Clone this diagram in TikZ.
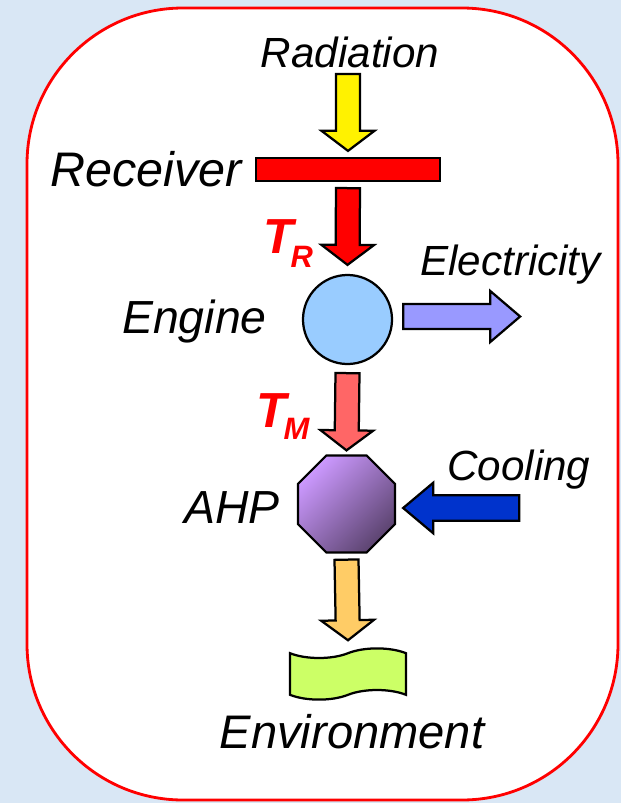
\documentclass[tikz,border=0pt]{standalone}
\usepackage{fontspec}
\setmainfont{Liberation Sans}
\usetikzlibrary{calc,shapes.geometric,shapes.symbols}
\definecolor{bgblue}{HTML}{D9E7F5}
\definecolor{engineblue}{HTML}{99CCFF}
\definecolor{elecblue}{HTML}{9999FF}
\definecolor{coolblue}{HTML}{0033CC}
\definecolor{hotpink}{HTML}{FF6666}
\definecolor{warmorange}{HTML}{FFCC66}
\definecolor{envgreen}{HTML}{CCFF66}
\definecolor{ahplight}{HTML}{CC99FF}
\definecolor{ahpdark}{HTML}{5C4470}
\tikzset{
  head len/.store in=\headlen, head len=0.5cm,
  head wd/.store in=\headwd, head wd=0.66cm,
  shaft wd/.store in=\shaftwd, shaft wd=0.3cm,
  bigarrow/.style={draw=black, line width=1.6pt, line join=miter, to path={
    ($(\tikztostart)!\shaftwd!90:(\tikztotarget)$)
    -- ($($(\tikztotarget)!\headlen!(\tikztostart)$)!\shaftwd!90:(\tikztotarget)$)
    -- ($($(\tikztotarget)!\headlen!(\tikztostart)$)!\headwd!90:(\tikztotarget)$)
    -- (\tikztotarget)
    -- ($($(\tikztotarget)!\headlen!(\tikztostart)$)!\headwd!-90:(\tikztotarget)$)
    -- ($($(\tikztotarget)!\headlen!(\tikztostart)$)!\shaftwd!-90:(\tikztotarget)$)
    -- ($(\tikztostart)!\shaftwd!-90:(\tikztotarget)$) -- cycle}}
}
\begin{document}
\begin{tikzpicture}[x=0.025cm, y=-0.025cm,
    bigtext/.style={font=\fontsize{33}{36}\selectfont\itshape, inner sep=0},
    smalltext/.style={font=\fontsize{30}{33}\selectfont\itshape, inner sep=0},
    templabel/.style={font=\fontsize{35}{38}\selectfont\bfseries\itshape, text=red, inner sep=0},
    part/.style={draw=black, line width=1.6pt}]
	\fill[bgblue] (0,0) rectangle (621,803);
	\useasboundingbox (0,0) rectangle (621,803);
	\draw[red, line width=2pt, fill=white, rounded corners=3.9cm] (27,8) rectangle (618,800);
	
	\node[smalltext, anchor=base] (radiation) at (350,67) {Radiation};
	\node[part, fill=red, minimum width=4.6cm, minimum height=0.575cm, inner sep=0] (receiver) at (348,169.5) {};
	\node[bigtext, font=\fontsize{34.5}{38}\selectfont\itshape, anchor=base east] (receivertext) at (242,186) {Receiver};
	\node[part, circle, fill=engineblue, minimum size=2.225cm, inner sep=0] (engine) at (347.5,319.5) {};
	\node[bigtext, anchor=base east] (enginetext) at (267,333) {Engine};
	\node[smalltext, anchor=base west] (electricity) at (420,275) {Electricity};
	\node[part, regular polygon, regular polygon sides=8, minimum size=2.625cm, inner sep=0,
	  top color=ahplight, bottom color=ahpdark, shading angle=45] (ahp) at (346.5,504) {};
	\node[bigtext, anchor=base east] (ahptext) at (280,523) {AHP};
	\node[smalltext, anchor=base west] (cooling) at (447,480) {Cooling};
	\node[part, tape, fill=envgreen, minimum width=2.9cm, minimum height=1.28cm, tape bend height=0.24cm] (environment) at (348,674) {};
	\node[bigtext, font=\fontsize{33.5}{37}\selectfont\itshape, anchor=base] (envtext) at (352,748) {Environment};
	\node[templabel, anchor=base west] (tr) at (263,253) {T\kern-2pt\raisebox{-10pt}{\fontsize{22}{24}\selectfont R}};
	\node[templabel, anchor=base west] (tm) at (256,427) {T\kern-2pt\raisebox{-9pt}{\fontsize{22}{24}\selectfont M}};
	
	\draw[bigarrow, fill=yellow] ($(radiation.base -| receiver.north)+(0,7)$) to ($(receiver.north)+(0,-6)$);
	\draw[bigarrow, fill=red] ($(receiver.south)+(0,6)$) to ($(engine.north)+(0,-9)$);
	\draw[bigarrow, fill=hotpink] ($(engine.south)+(0,8)$) to ($(ahp.north)+(0,-4)$);
	\draw[bigarrow, fill=warmorange] ($(ahp.south)+(0,6)$) to ($(environment.north)+(0,-12)$);
	\draw[bigarrow, fill=elecblue, head len=0.75cm, head wd=0.64cm, shaft wd=0.31cm] ($(engine.east)+(10,-3)$) to ($(engine.east)+(127,-3)$);
	\draw[bigarrow, fill=coolblue, head len=0.75cm, head wd=0.63cm, shaft wd=0.32cm] ($(ahp.east)+(123,4)$) to ($(ahp.east)+(7,4)$);
\end{tikzpicture}
\end{document}
